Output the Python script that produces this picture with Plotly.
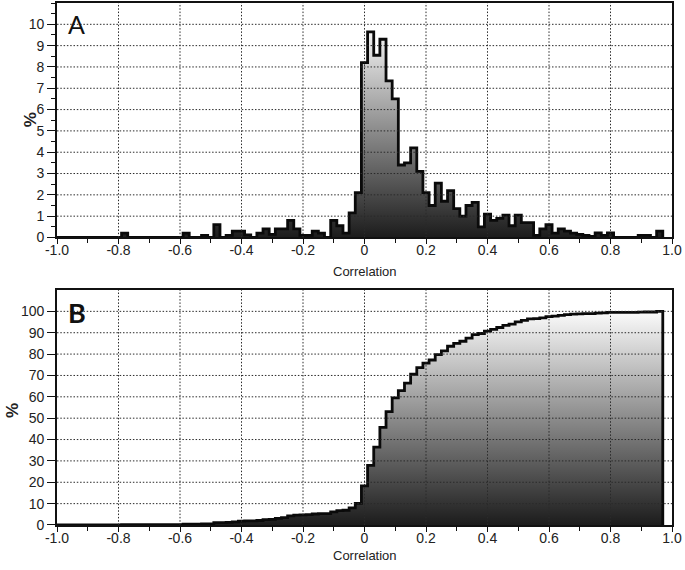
import numpy as np
import plotly.graph_objects as go

# ---------------- data ----------------
bin_width = 0.02
bin_centers = np.round(np.arange(-1.0, 0.9601, 0.02), 2)   # -1.00 ... 0.96

percent = [
    0, 0, 0, 0, 0, 0, 0, 0, 0, 0,            # -1.00 .. -0.82
    0, 0.2, 0, 0, 0, 0, 0, 0, 0, 0,          # -0.80 .. -0.62
    0, 0.2, 0, 0, 0.1, 0, 0.6, 0, 0.1, 0.3,  # -0.60 .. -0.42
    0.3, 0.12, 0, 0.2, 0.4, 0.15, 0.4, 0.4, 0.8, 0.4,   # -0.40 .. -0.22
    0.1, 0.1, 0.3, 0.2, 0, 0.8, 0.55, 0.2, 1.15, 2.1,   # -0.20 .. -0.02
    8.2, 9.65, 8.55, 9.3, 7.35, 6.5, 3.4, 3.5, 4.2, 3.1,  # 0.00 .. 0.18
    2.1, 1.5, 2.55, 1.7, 2.2, 1.35, 1.0, 1.5, 1.65, 0.5,  # 0.20 .. 0.38
    1.1, 0.8, 0.9, 1.05, 0.55, 1.05, 0.7, 0.7, 0.1, 0.4,  # 0.40 .. 0.58
    0.6, 0.2, 0.4, 0.3, 0.2, 0.15, 0.1, 0.05, 0.22, 0.1,  # 0.60 .. 0.78
    0.22, 0, 0, 0, 0, 0.1, 0.1, 0, 0.3,                   # 0.80 .. 0.96
]
assert len(percent) == len(bin_centers)

cumulative = np.cumsum(percent) / np.sum(percent) * 100.0

x_tickvals = [-1.0, -0.8, -0.6, -0.4, -0.2, 0.0, 0.2, 0.4, 0.6, 0.8, 1.0]
x_ticktext = ["-1.0", "-0.8", "-0.6", "-0.4", "-0.2", "0", "0.2", "0.4", "0.6", "0.8", "1.0"]
yA_tickvals = list(range(0, 11))
yB_tickvals = list(range(0, 101, 10))

# ---------------- build step paths ----------------
edges = bin_centers - bin_width / 2
last_edge = bin_centers[-1] + bin_width / 2
xs = list(edges) + [last_edge, last_edge]
ysA = list(percent) + [percent[-1], 0]
ysB = list(cumulative) + [cumulative[-1], 0]

FONT = "Liberation Sans, Arial, Helvetica, sans-serif"
fig = go.Figure()

fig.add_trace(go.Scatter(
    x=xs, y=ysA, xaxis="x", yaxis="y", mode="lines",
    line=dict(shape="hv", color="#0a0a0a", width=2.8),
    fill="tozeroy",
    fillgradient=dict(type="vertical", colorscale=[[0, "#1c1c1c"], [1, "#f3f3f3"]],
                      start=0, stop=max(percent)),
    hoverinfo="skip"))

fig.add_trace(go.Scatter(
    x=xs, y=ysB, xaxis="x2", yaxis="y2", mode="lines",
    line=dict(shape="hv", color="#0a0a0a", width=2.8),
    fill="tozeroy",
    fillgradient=dict(type="vertical", colorscale=[[0, "#1c1c1c"], [1, "#fbfbfb"]],
                      start=0, stop=100),
    hoverinfo="skip"))

tickfont = dict(family=FONT, size=14, color="#222")

def xaxis_cfg(anchor):
    return dict(anchor=anchor, domain=[0, 1], range=[-1, 1],
                tickvals=x_tickvals, ticktext=x_ticktext,
                ticks="outside", ticklen=5, tickwidth=1.2, tickcolor="#111",
                ticklabelstandoff=-6,
                minor=dict(dtick=0.1, tick0=0, ticks="outside", ticklen=4,
                           tickwidth=1.2, tickcolor="#111", showgrid=False),
                showline=True, linecolor="#111", linewidth=1.6, mirror=True,
                showgrid=False, zeroline=False, tickfont=tickfont)

fig.update_layout(
    width=685, height=570,
    margin=dict(l=57, r=13, t=3, b=45, autoexpand=False),
    paper_bgcolor="white", plot_bgcolor="white", showlegend=False,
    xaxis=xaxis_cfg("y"),
    xaxis2=xaxis_cfg("y2"),
    yaxis=dict(anchor="x", domain=[0.5508, 1], range=[0, 11],
               tickvals=yA_tickvals, ticks="outside", ticklen=8, tickwidth=1.2,
               tickcolor="#111",
               minor=dict(dtick=0.5, ticks="outside", ticklen=4, tickwidth=1.2,
                          tickcolor="#111", showgrid=False),
               showline=True, linecolor="#111", linewidth=1.6, mirror=True,
               showgrid=False, zeroline=False, tickfont=tickfont),
    yaxis2=dict(anchor="x2", domain=[0, 0.4502], range=[0, 110],
                tickvals=yB_tickvals, ticks="outside", ticklen=8, tickwidth=1.2,
                tickcolor="#111",
                showline=True, linecolor="#111", linewidth=1.6, mirror=True,
                showgrid=False, zeroline=False, tickfont=tickfont),
)

# dotted grid lines drawn above the filled areas
grid = dict(color="#2a2a2a", width=1, dash="1.5px,1.8px")
for xref, yref, yr, yt in [("x", "y", [0, 11], yA_tickvals), ("x2", "y2", [0, 110], yB_tickvals)]:
    for v in x_tickvals[1:-1]:
        fig.add_shape(type="line", xref=xref, yref=yref, x0=v, x1=v, y0=yr[0], y1=yr[1],
                      line=grid, layer="above")
    for v in yt[1:]:
        fig.add_shape(type="line", xref=xref, yref=yref, x0=-1, x1=1, y0=v, y1=v,
                      line=grid, layer="above")

# titles and panel letters
fig.add_annotation(text="Correlation", xref="paper", yref="paper", x=0.5, y=0.4847,
                   xanchor="center", yanchor="middle",
                   showarrow=False, font=dict(family=FONT, size=13, color="#222"))
fig.add_annotation(text="Correlation", xref="paper", yref="paper", x=0.5, y=-0.0575,
                   xanchor="center", yanchor="middle",
                   showarrow=False, font=dict(family=FONT, size=13, color="#222"))
fig.add_annotation(text="<b>%</b>", xref="paper", yref="paper", x=-0.0439, y=0.7753,
                   xanchor="center", yanchor="middle",
                   textangle=-90, showarrow=False, font=dict(family=FONT, size=17, color="#222"))
fig.add_annotation(text="<b>%</b>", xref="paper", yref="paper", x=-0.0732, y=0.2203,
                   xanchor="center", yanchor="middle",
                   textangle=-90, showarrow=False, font=dict(family=FONT, size=17, color="#222"))
fig.add_annotation(text="A", xref="paper", yref="paper", x=0.0146, y=0.992,
                   xanchor="left", yanchor="top", showarrow=False,
                   font=dict(family="Lato, Open Sans, sans-serif", size=25, color="#111"))
fig.add_annotation(text="<b>B</b>", xref="paper", yref="paper", x=0.0146, y=0.4425,
                   xanchor="left", yanchor="top", showarrow=False,
                   font=dict(family="Lato, Open Sans, sans-serif", size=27, color="#111"))

fig.write_html("out.html", config={"displayModeBar": False},
               post_script="document.body.style.margin='0';")
